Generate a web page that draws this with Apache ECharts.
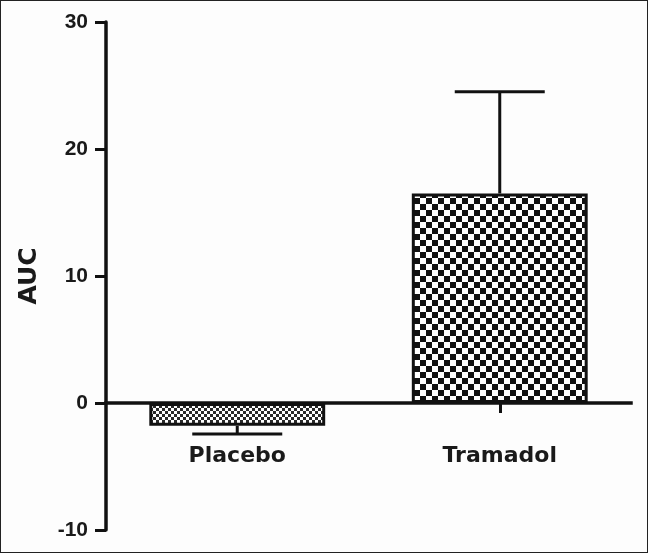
<!DOCTYPE html>
<html>
<head>
<meta charset="utf-8">
<script src="https://cdn.jsdelivr.net/npm/echarts@6/dist/echarts.min.js"></script>
<style>
html,body{margin:0;padding:0;background:#fff;}
#wrap{position:relative;width:648px;height:553px;box-sizing:border-box;border:1px solid #222;background:#fdfdfd;}
#c{position:absolute;left:-1px;top:-1px;width:648px;height:553px;}
</style>
</head>
<body>
<div id="wrap"><div id="c"></div></div>
<script>
var categories = ['Placebo', 'Tramadol'];
var means = [-1.8, 16.5];
var errors = [0.65, 8.0];
var yTicks = [-10, 0, 10, 20, 30];
var yName = 'AUC';

function checker(size, dark) {
  var cv = document.createElement('canvas');
  cv.width = size * 2; cv.height = size * 2;
  var ctx = cv.getContext('2d');
  ctx.fillStyle = '#fff';
  ctx.fillRect(0, 0, size * 2, size * 2);
  ctx.fillStyle = dark;
  ctx.fillRect(0, 0, size, size);
  ctx.fillRect(size, size, size, size);
  return { image: cv, repeat: 'repeat' };
}
var patterns = [checker(3, '#2a2a2a'), checker(6, '#111')];

var barData = means.map(function (v, i) {
  return { value: v, itemStyle: { color: patterns[i] } };
});
var errData = means.map(function (v, i) {
  var end = v >= 0 ? v + errors[i] : v - errors[i];
  return [i, v, end];
});

var chart = echarts.init(document.getElementById('c'));
chart.setOption({
  animation: false,
  grid: { left: 106, right: 17, top: 22, bottom: 23, containLabel: false, outerBoundsMode: 'none' },
  xAxis: {
    type: 'category',
    data: categories,
    position: 'bottom',
    offset: 0,
    axisLine: { onZero: false, lineStyle: { color: '#111', width: 3.5, cap: 'square' } },
    axisTick: { show: true, alignWithLabel: true, length: 10, lineStyle: { color: '#111', width: 3 } },
    axisLabel: { margin: 42, color: '#1a1a1a', fontFamily: 'DejaVu Sans', fontWeight: 'bold', fontSize: 22 }
  },
  yAxis: {
    type: 'value',
    min: yTicks[0], max: yTicks[yTicks.length - 1], interval: 10,
    name: yName,
    nameLocation: 'middle',
    nameGap: 64,
    nameRotate: 90,
    nameTextStyle: { color: '#1a1a1a', fontFamily: 'DejaVu Sans', fontWeight: 'bold', fontSize: 25 },
    axisLine: { show: true, lineStyle: { color: '#111', width: 3.5 } },
    axisTick: { show: true, length: 11, lineStyle: { color: '#111', width: 3 } },
    axisLabel: { margin: 18, color: '#1a1a1a', fontFamily: 'Liberation Sans, Arial', fontWeight: 'bold', fontSize: 21 },
    splitLine: { show: false }
  },
  series: [
    {
      type: 'bar',
      data: barData,
      barWidth: '67%',
      itemStyle: { borderColor: '#111', borderWidth: 3 },
      z: 2
    },
    {
      type: 'custom',
      data: errData,
      z: 3,
      renderItem: function (params, api) {
        var p0 = api.coord([api.value(0), api.value(1)]);
        var p1 = api.coord([api.value(0), api.value(2)]);
        var half = 45;
        var st = { stroke: '#111', lineWidth: 3 };
        return {
          type: 'group',
          children: [
            { type: 'line', shape: { x1: p0[0], y1: p0[1], x2: p1[0], y2: p1[1] }, style: st },
            { type: 'line', shape: { x1: p1[0] - half, y1: p1[1], x2: p1[0] + half, y2: p1[1] }, style: st }
          ]
        };
      }
    }
  ]
});
// move the category axis to the zero line, using the library's own scale
var yZero = chart.convertToPixel({ yAxisIndex: 0 }, 0);
var yMin = chart.convertToPixel({ yAxisIndex: 0 }, yTicks[0]);
chart.setOption({ xAxis: { offset: -(yMin - yZero) } });
</script>
</body>
</html>
